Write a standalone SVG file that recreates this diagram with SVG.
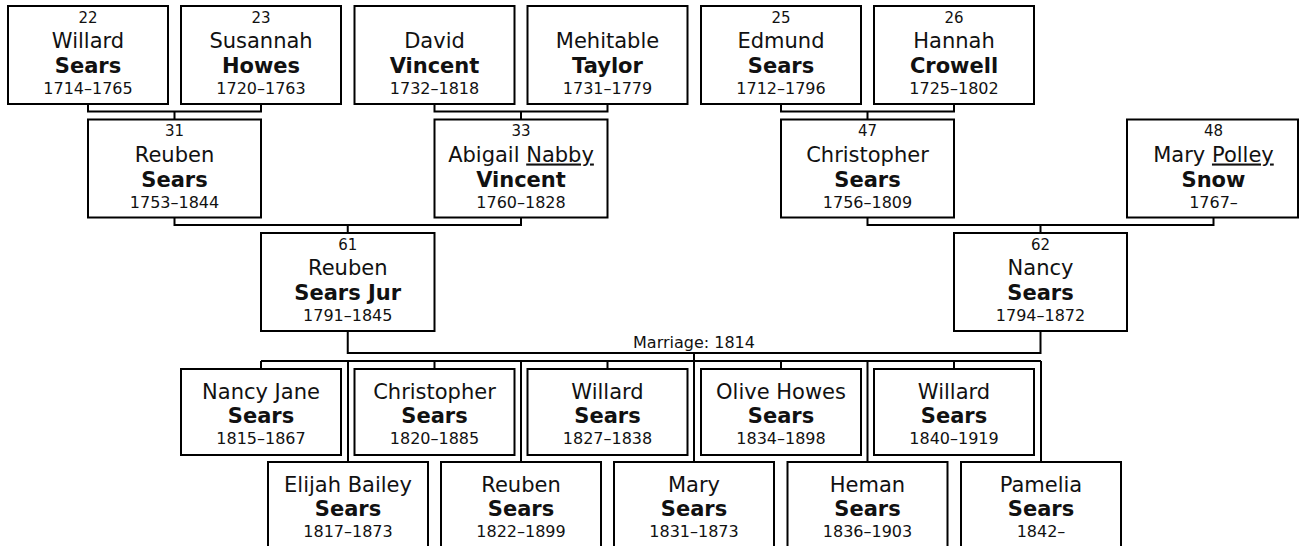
<svg xmlns="http://www.w3.org/2000/svg" width="1299" height="546" viewBox="0 0 1299 546">
<style>
.box{fill:#fff;stroke:#000;stroke-width:2}
.c{fill:none;stroke:#000;stroke-width:2}
text{font-family:"DejaVu Sans",Verdana,sans-serif;fill:#111;text-anchor:middle}
.num{font-size:15px}
.nm{font-size:21px}
.sn{font-size:21px;font-weight:bold}
.dt{font-size:16px}
.u{text-decoration:underline}
</style>
<rect width="1299" height="546" fill="#fff"/>
<g id="connectors">
<path class="c" d="M88 104V111.5H261V104M174.5 111.5V119.5"/>
<path class="c" d="M434.5 104V111.5H607.5V104M521 111.5V119.5"/>
<path class="c" d="M781 104V111.5H954V104M867.5 111.5V119.5"/>
<path class="c" d="M174.5 217.5V225H521V217.5M347.75 225V233"/>
<path class="c" d="M867.5 217.5V225H1213.5V217.5M1040.5 225V233"/>
<path class="c" d="M347.75 331V353H1040.5V331"/>
<path class="c" d="M694 353V462"/>
<path class="c" d="M261 361H1041"/>
<path class="c" d="M261 361V369M434.5 361V369M607.5 361V369M781 361V369M954 361V369"/>
<path class="c" d="M348 361V462M521 361V462M867.5 361V462M1041 361V462"/>
<text x="694" y="348" style="font-size:16px">Marriage: 1814</text>
</g>
<g id="p22"><rect class="box" x="8" y="6" width="160" height="98"/><text x="88" y="22.5" class="num">22</text><text x="88" y="48" class="nm">Willard</text><text x="88" y="73" class="sn">Sears</text><text x="88" y="94" class="dt">1714–1765</text></g>
<g id="p23"><rect class="box" x="181" y="6" width="160" height="98"/><text x="261" y="22.5" class="num">23</text><text x="261" y="48" class="nm">Susannah</text><text x="261" y="73" class="sn">Howes</text><text x="261" y="94" class="dt">1720–1763</text></g>
<g id="pDavid"><rect class="box" x="354.5" y="6" width="160" height="98"/><text x="434.5" y="48" class="nm">David</text><text x="434.5" y="73" class="sn">Vincent</text><text x="434.5" y="94" class="dt">1732–1818</text></g>
<g id="pMehitable"><rect class="box" x="527.5" y="6" width="160" height="98"/><text x="607.5" y="48" class="nm">Mehitable</text><text x="607.5" y="73" class="sn">Taylor</text><text x="607.5" y="94" class="dt">1731–1779</text></g>
<g id="p25"><rect class="box" x="701" y="6" width="160" height="98"/><text x="781" y="22.5" class="num">25</text><text x="781" y="48" class="nm">Edmund</text><text x="781" y="73" class="sn">Sears</text><text x="781" y="94" class="dt">1712–1796</text></g>
<g id="p26"><rect class="box" x="874" y="6" width="160" height="98"/><text x="954" y="22.5" class="num">26</text><text x="954" y="48" class="nm">Hannah</text><text x="954" y="73" class="sn">Crowell</text><text x="954" y="94" class="dt">1725–1802</text></g>
<g id="p31"><rect class="box" x="88" y="119.5" width="173" height="98"/><text x="174.5" y="136" class="num">31</text><text x="174.5" y="161.5" class="nm">Reuben</text><text x="174.5" y="186.5" class="sn">Sears</text><text x="174.5" y="207.5" class="dt">1753–1844</text></g>
<g id="p33"><rect class="box" x="434.5" y="119.5" width="173" height="98"/><text x="521" y="136" class="num">33</text><text x="521" y="161.5" class="nm">Abigail <tspan class="u">Nabby</tspan></text><text x="521" y="186.5" class="sn">Vincent</text><text x="521" y="207.5" class="dt">1760–1828</text></g>
<g id="p47"><rect class="box" x="781" y="119.5" width="173" height="98"/><text x="867.5" y="136" class="num">47</text><text x="867.5" y="161.5" class="nm">Christopher</text><text x="867.5" y="186.5" class="sn">Sears</text><text x="867.5" y="207.5" class="dt">1756–1809</text></g>
<g id="p48"><rect class="box" x="1127" y="119.5" width="171" height="98"/><text x="1213.5" y="136" class="num">48</text><text x="1213.5" y="161.5" class="nm">Mary <tspan class="u">Polley</tspan></text><text x="1213.5" y="186.5" class="sn">Snow</text><text x="1213.5" y="207.5" class="dt">1767–</text></g>
<g id="p61"><rect class="box" x="261" y="233" width="173.5" height="98"/><text x="347.75" y="249.5" class="num">61</text><text x="347.75" y="275" class="nm">Reuben</text><text x="347.75" y="300" class="sn">Sears Jur</text><text x="347.75" y="321" class="dt">1791–1845</text></g>
<g id="p62"><rect class="box" x="954" y="233" width="173" height="98"/><text x="1040.5" y="249.5" class="num">62</text><text x="1040.5" y="275" class="nm">Nancy</text><text x="1040.5" y="300" class="sn">Sears</text><text x="1040.5" y="321" class="dt">1794–1872</text></g>
<g id="c1"><rect class="box" x="181" y="369" width="160" height="86"/><text x="261" y="398.5" class="nm">Nancy Jane</text><text x="261" y="422.5" class="sn">Sears</text><text x="261" y="443.5" class="dt">1815–1867</text></g>
<g id="c2"><rect class="box" x="354.5" y="369" width="160" height="86"/><text x="434.5" y="398.5" class="nm">Christopher</text><text x="434.5" y="422.5" class="sn">Sears</text><text x="434.5" y="443.5" class="dt">1820–1885</text></g>
<g id="c3"><rect class="box" x="527.5" y="369" width="160" height="86"/><text x="607.5" y="398.5" class="nm">Willard</text><text x="607.5" y="422.5" class="sn">Sears</text><text x="607.5" y="443.5" class="dt">1827–1838</text></g>
<g id="c4"><rect class="box" x="701" y="369" width="160" height="86"/><text x="781" y="398.5" class="nm">Olive Howes</text><text x="781" y="422.5" class="sn">Sears</text><text x="781" y="443.5" class="dt">1834–1898</text></g>
<g id="c5"><rect class="box" x="874" y="369" width="160" height="86"/><text x="954" y="398.5" class="nm">Willard</text><text x="954" y="422.5" class="sn">Sears</text><text x="954" y="443.5" class="dt">1840–1919</text></g>
<g id="c6"><rect class="box" x="268" y="462" width="160" height="86"/><text x="348" y="491.5" class="nm">Elijah Bailey</text><text x="348" y="515.5" class="sn">Sears</text><text x="348" y="536.5" class="dt">1817–1873</text></g>
<g id="c7"><rect class="box" x="441" y="462" width="160" height="86"/><text x="521" y="491.5" class="nm">Reuben</text><text x="521" y="515.5" class="sn">Sears</text><text x="521" y="536.5" class="dt">1822–1899</text></g>
<g id="c8"><rect class="box" x="614" y="462" width="160" height="86"/><text x="694" y="491.5" class="nm">Mary</text><text x="694" y="515.5" class="sn">Sears</text><text x="694" y="536.5" class="dt">1831–1873</text></g>
<g id="c9"><rect class="box" x="787.5" y="462" width="160" height="86"/><text x="867.5" y="491.5" class="nm">Heman</text><text x="867.5" y="515.5" class="sn">Sears</text><text x="867.5" y="536.5" class="dt">1836–1903</text></g>
<g id="c10"><rect class="box" x="961" y="462" width="160" height="86"/><text x="1041" y="491.5" class="nm">Pamelia</text><text x="1041" y="515.5" class="sn">Sears</text><text x="1041" y="536.5" class="dt">1842–</text></g>
</svg>
